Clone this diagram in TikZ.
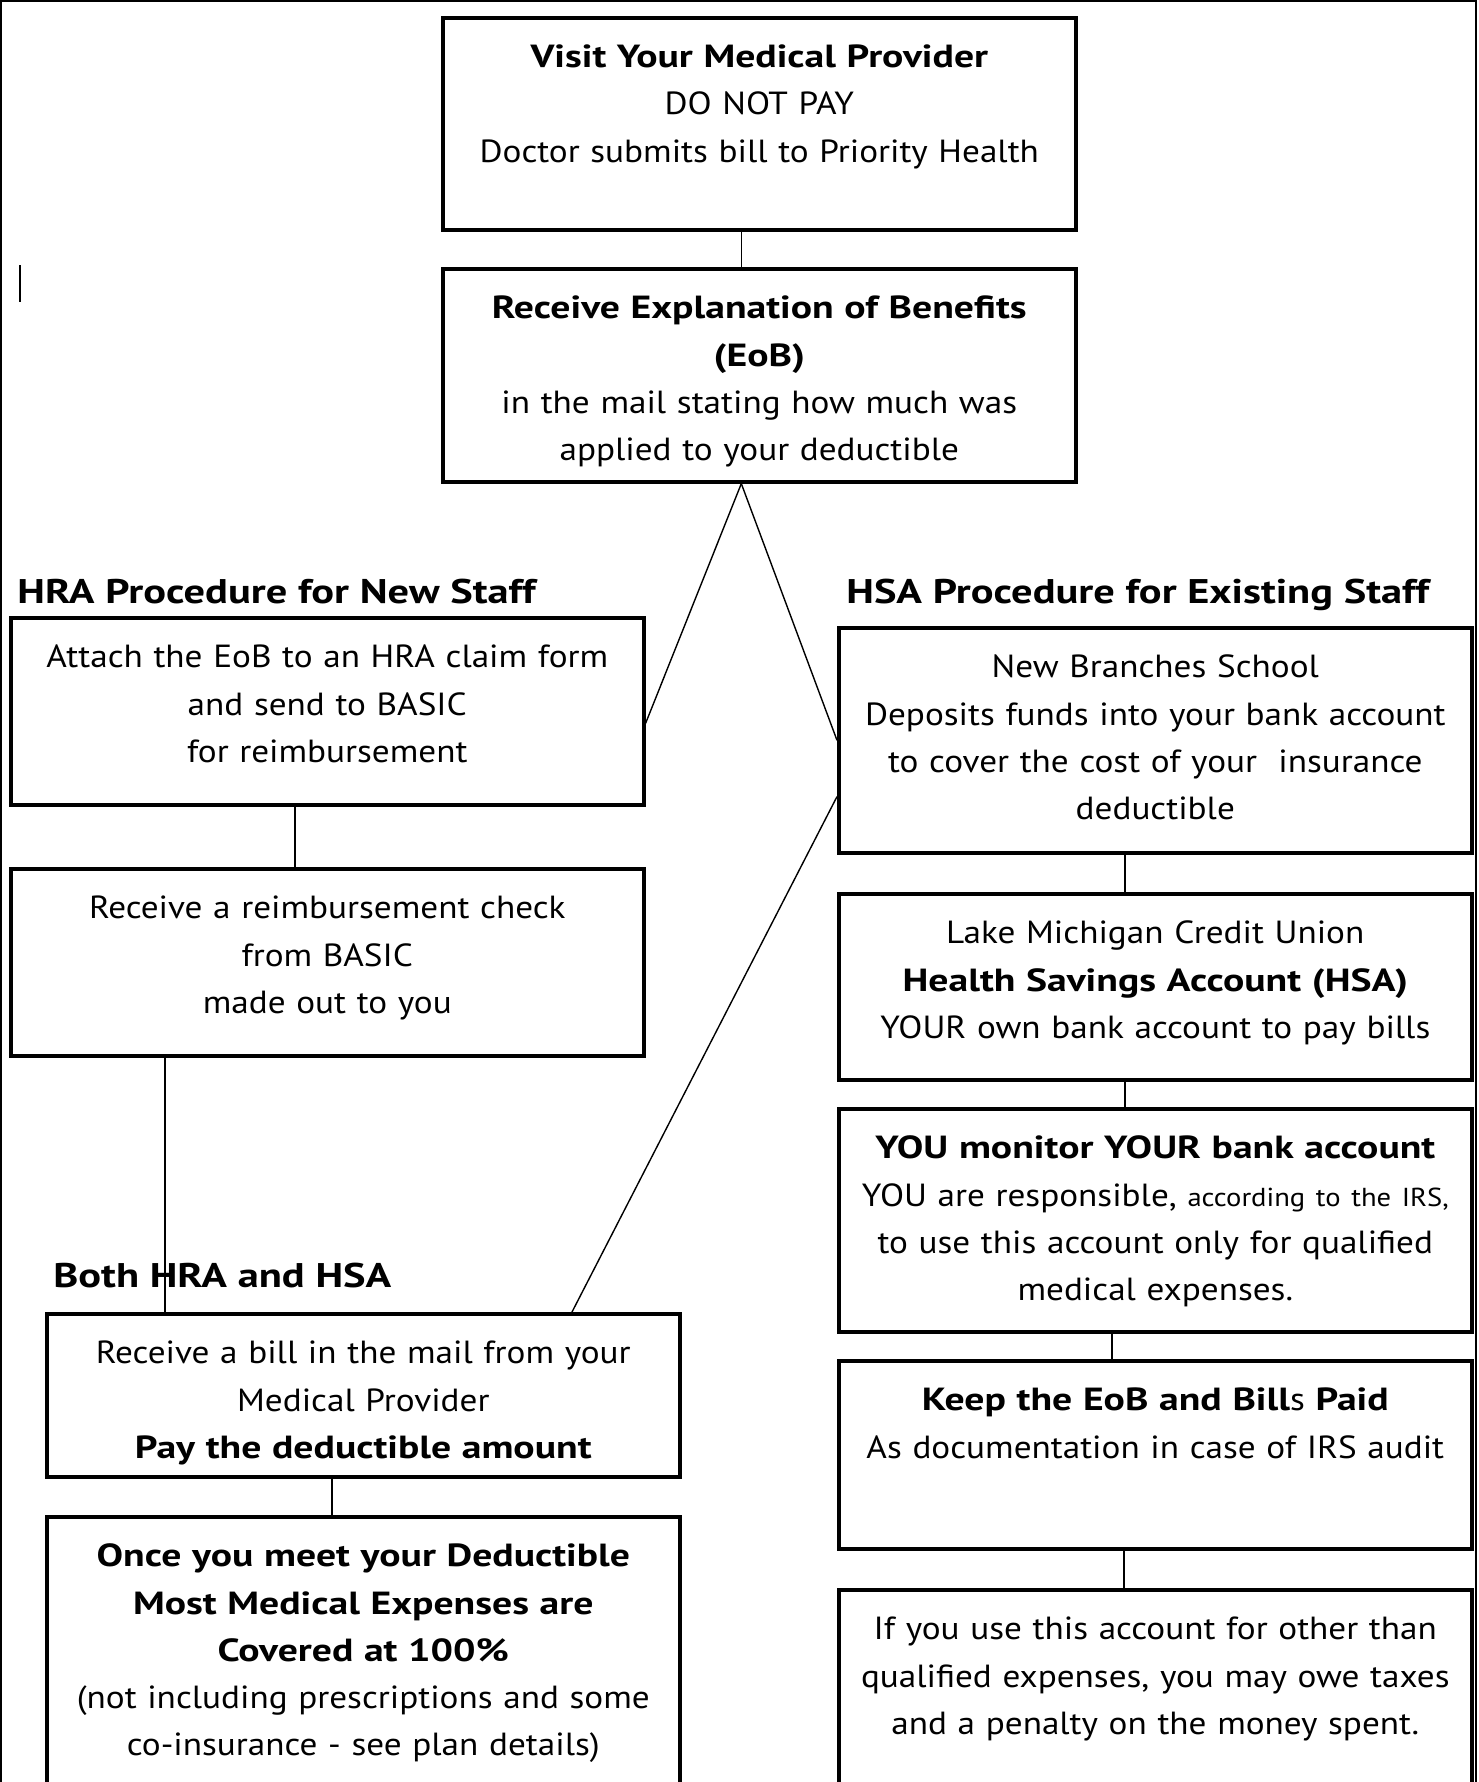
\documentclass[tikz,border=0pt]{standalone}
\usepackage{fontspec}
\setmainfont{PT Sans}[UprightFeatures={FakeStretch=1.1}, BoldFeatures={FakeStretch=1.24}]
\usetikzlibrary{calc}

\tikzset{
  flowbox/.style={draw, line width=1.8pt, anchor=north west, inner sep=0pt,
    text width=316.5pt, align=center, text height=25pt, text depth=#1,
    font=\fontsize{16}{23.6}\selectfont},
  flowbox/.default=70pt,
  head/.style={anchor=base west, inner sep=0pt,
    font=\fontsize{17.1}{22}\selectfont\bfseries},
  link/.style={line width=0.7pt},
}

\begin{document}
\begin{tikzpicture}[x=0.5pt,y=-0.5pt]
  \useasboundingbox (0,0) rectangle (1478,1782);
  \clip (0,0) rectangle (1478,1782);

  % Page frame
  \draw[line width=1pt] (1,1782) -- (1,1) -- (1476,1) -- (1476,1782);
  \draw[line width=0.6pt] (20,265) -- (20,302);

  % Common start
  \node[flowbox=81pt] (visit) at (441,16)
    {\textbf{Visit Your Medical Provider}\\ DO NOT PAY\\ Doctor submits bill to Priority Health};
  \node[flowbox=81.5pt] (eob) at (441,267)
    {\textbf{Receive Explanation of Benefits}\\ \textbf{(EoB)}\\ in the mail stating how much was\\ applied to your deductible};

  % HRA side
  \node[head] (hraHead) at (17,603) {HRA Procedure for New Staff};
  \node[flowbox=68.5pt] (hraAttach) at (9,616)
    {Attach the EoB to an HRA claim form\\ and send to BASIC\\ for reimbursement};
  \node[flowbox=68.5pt] (hraCheck) at (9,867)
    {Receive a reimbursement check\\ from BASIC\\ made out to you};

  % HSA side
  \node[head] (hsaHead) at (846,603) {HSA Procedure for Existing Staff};
  \node[flowbox=87.5pt] (hsaDeposit) at (837,626)
    {New Branches School\\ Deposits funds into your bank account\\ to cover the cost of your\ \ insurance\\ deductible};
  \node[flowbox=68pt] (hsaAccount) at (837,892)
    {Lake Michigan Credit Union\\ \textbf{Health Savings Account (HSA)}\\ YOUR own bank account to pay bills};
  \node[flowbox=86.5pt] (hsaMonitor) at (837,1107)
    {\textbf{YOU monitor YOUR bank account}\\ YOU are responsible, {\fontsize{13}{23.6}\selectfont according to the IRS,}\\ to use this account only for qualified\\ medical expenses.};
  \node[flowbox=69pt] (hsaKeep) at (837,1359)
    {\textbf{Keep the EoB and Bill}s \textbf{Paid}\\ As documentation in case of IRS audit};
  \node[flowbox=81.5pt] (hsaWarn) at (837,1588)
    {If you use this account for other than\\ qualified expenses, you may owe taxes\\ and a penalty on the money spent.};

  % Both
  \node[head] (bothHead) at (53,1287) {Both HRA and HSA};
  \node[flowbox=56.5pt] (bothBill) at (45,1312)
    {Receive a bill in the mail from your\\ Medical Provider\\ \textbf{Pay the deductible amount}};
  \node[flowbox=118pt] (bothCovered) at (45,1515)
    {\textbf{Once you meet your Deductible}\\ \textbf{Most Medical Expenses are}\\ \textbf{Covered at 100\%}\\ (not including prescriptions and some\\ co-insurance - see plan details)};

  % Connectors
  \coordinate (split) at ($(eob.south)+(-18,0)$);
  \draw[link] (visit.south -| split) -- (eob.north -| split);
  \draw[link] (split) -- ($(hraAttach.east)+(0,12)$);
  \draw[link] (split) -- (hsaDeposit.west);
  \draw[link] ($(hsaDeposit.south west)+(0,-58)$) -- ($(bothBill.north west)+(527,0)$);
  \draw[link] (hraAttach.south -| 295,0) -- (hraCheck.north -| 295,0);
  \draw[link] (hraCheck.south -| 165,0) -- (bothBill.north -| 165,0);
  \draw[link] (bothBill.south -| 332,0) -- (bothCovered.north -| 332,0);
  \draw[link] (hsaDeposit.south -| 1125,0) -- (hsaAccount.north -| 1125,0);
  \draw[link] (hsaAccount.south -| 1125,0) -- (hsaMonitor.north -| 1125,0);
  \draw[link] (hsaMonitor.south -| 1112,0) -- (hsaKeep.north -| 1112,0);
  \draw[link] (hsaKeep.south -| 1124,0) -- (hsaWarn.north -| 1124,0);
\end{tikzpicture}
\end{document}
